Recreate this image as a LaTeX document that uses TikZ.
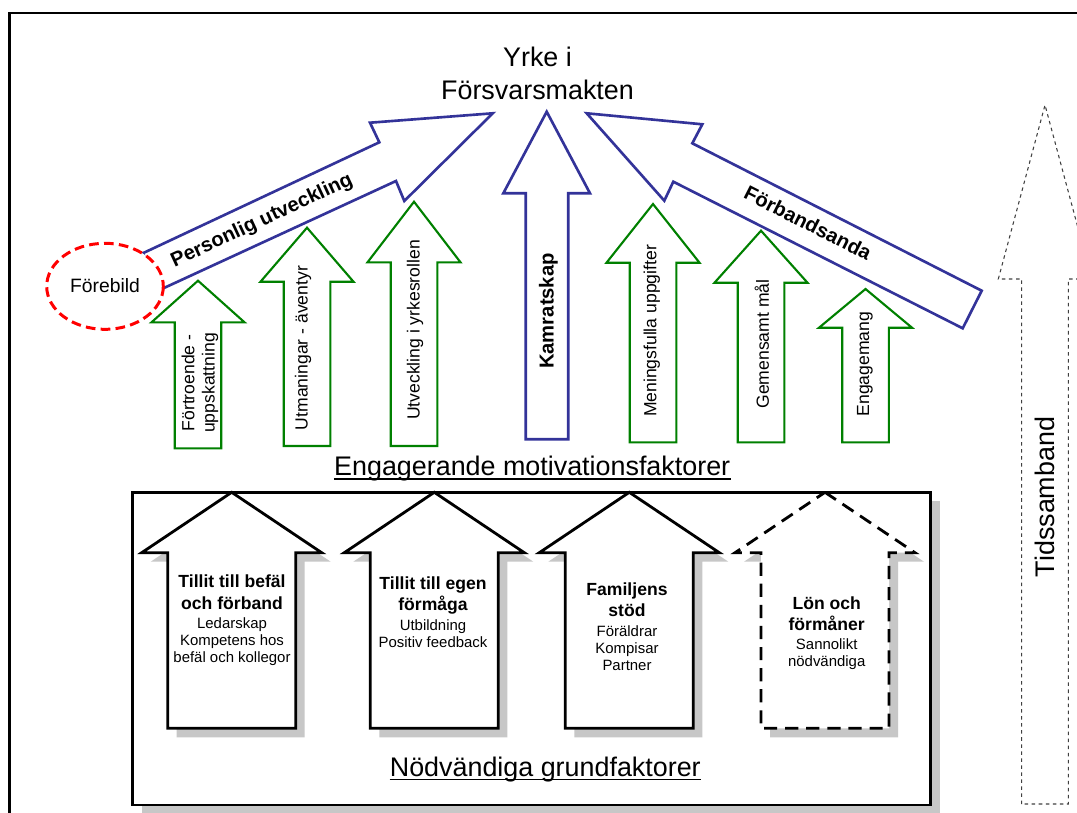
\documentclass[tikz,border=0pt]{standalone}
\usepackage{fontspec}
\setmainfont{Liberation Sans}
\usepackage{tikz}
\usetikzlibrary{positioning}

\definecolor{navyblue}{RGB}{51,51,153}
\definecolor{leafgreen}{RGB}{0,128,0}

\tikzset{
  bluearrow/.style={draw=navyblue, line width=1.5pt, fill=white},
  greenarrow/.style={draw=leafgreen, line width=1.2pt, fill=white},
  basearrow/.style={draw=black, line width=1.6pt, fill=white},
  dropshadow/.style={fill=black!22, draw=none},
  greenlabel/.style={font=\fontsize{10}{11.5}\selectfont, rotate=90, align=center, inner sep=0pt},
  boldlabel/.style={font=\bfseries\fontsize{11.5}{13}\selectfont, inner sep=0pt},
  headtext/.style={font=\bfseries\fontsize{10}{12}\selectfont, align=center, inner sep=0pt, anchor=base},
  subtext/.style={font=\fontsize{8.5}{9.8}\selectfont, align=center, inner sep=0pt, anchor=base},
  bigtext/.style={font=\fontsize{15.3}{18.7}\selectfont, inner sep=0pt}
}

\begin{document}
\begin{tikzpicture}[x=0.2mm, y=-0.2mm]
 \clip (0,0) rectangle (1077,812);
 % frame
 \draw[line width=1.4pt] (9.5,13) rectangle (1100,830);

 % time arrow
 \draw[dash pattern=on 2pt off 2pt, line width=0.6pt, black!75] (1021.7,804) -- (1021.7,279) -- (998.3,279) -- (1045,105) -- (1091.7,279) -- (1068.3,279) -- (1068.3,804) -- cycle;
 \node[bigtext, rotate=90] (tid) at (1045,497) {Tidssamband};

 % blue arrows
 \draw[bluearrow] (142.7,253.3) -- (379.3,142.3) -- (370,122.7) -- (492.7,113.3) -- (404.3,201) -- (396,181) -- (163.3,288.3) -- cycle;
 \draw[bluearrow] (546.7,111.7) -- (590,193.3) -- (568.3,193.3) -- (568.3,439.3) -- (525.7,439.3) -- (525.7,193.3) -- (503.3,193.3) -- cycle;
 \draw[bluearrow] (586.7,113.3) -- (702.3,124.3) -- (692.3,143.3) -- (981.7,290.7) -- (962.7,328.3) -- (673.3,181.7) -- (664.3,200.7) -- cycle;

 % green arrows
 \foreach \cx/\tip/\head/\bot in {198/280.7/322.3/448.3, 307/227.7/281.7/446, 414/201.7/262.3/446,
                                  653/204/262.7/442.3, 761/230.7/282.7/442.3, 865.5/289/327.7/442.3}
  \draw[greenarrow] (\cx,\tip) -- ({\cx+46.5},\head) -- ({\cx+23.3},\head) -- ({\cx+23.3},\bot)
     -- ({\cx-23.3},\bot) -- ({\cx-23.3},\head) -- ({\cx-46.5},\head) -- cycle;

 % role model
 \draw[red, line width=1.7pt, dash pattern=on 5.5pt off 3pt, fill=white] (105,286.3) ellipse [x radius=58.3, y radius=43];
 \node[font=\fontsize{11}{13}\selectfont, inner sep=0pt] (forebild) at (105,285.7) {Förebild};

 \node[bigtext, align=center, anchor=base] (yrke) at (537.5,99) {Yrke i\\Försvarsmakten};
 \node[boldlabel, rotate=25] (personlig) at (262,221) {Personlig utveckling};
 \node[boldlabel, rotate=90] (kamrat) at (548.5,311) {Kamratskap};
 \node[boldlabel, rotate=-27] (forband) at (808,223) {Förbandsanda};

 \node[greenlabel] (fortroende) at (200,383) {Förtroende -\\uppskattning};
 \node[greenlabel] (utmaning) at (303,348) {Utmaningar - äventyr};
 \node[greenlabel] (yrkesroll) at (415,330) {Utveckling i yrkesrollen};
 \node[greenlabel] (uppgift) at (651.7,331) {Meningsfulla uppgifter};
 \node[greenlabel] (mal) at (761.8,344) {Gemensamt mål};
 \node[greenlabel] (engagemang) at (865,364) {Engagemang};

 \node[bigtext, anchor=base] (engag) at (532.2,475.7) {Engagerande motivationsfaktorer};
 \draw[line width=0.9pt] ([yshift=-2pt]engag.base west) -- ([yshift=-2pt]engag.base east);

 % base factors
 \fill[dropshadow] (141.7,501.3) rectangle (939.7,814);
 \draw[line width=1.4pt, fill=white] (132.7,492.3) rectangle (930.7,805);
 \foreach \cx in {231.7, 434.3, 629.3, 825}
  \fill[dropshadow, shift={(9,9)}] (\cx,492.3) -- ({\cx+90},552.7) -- ({\cx+64},552.7) -- ({\cx+64},728.3)
     -- ({\cx-64},728.3) -- ({\cx-64},552.7) -- ({\cx-90},552.7) -- cycle;
 \foreach \cx in {231.7, 434.3, 629.3}
  \draw[basearrow] (\cx,492.3) -- ({\cx+90},552.7) -- ({\cx+64},552.7) -- ({\cx+64},728.3)
     -- ({\cx-64},728.3) -- ({\cx-64},552.7) -- ({\cx-90},552.7) -- cycle;
 \draw[basearrow, dash pattern=on 7.5pt off 4.5pt] (825,492.3) -- (915,552.7) -- (889,552.7) -- (889,728.3)
     -- (761,728.3) -- (761,552.7) -- (735,552.7) -- cycle;

 \node[headtext] (befal) at (232,609) {Tillit till befäl\\och förband};
 \node[subtext] (befal-sub) at (232,662.7) {Ledarskap\\Kompetens hos\\befäl och kollegor};
 \node[headtext] (egen) at (433,610.7) {Tillit till egen\\förmåga};
 \node[subtext] (egen-sub) at (433,647.7) {Utbildning\\Positiv feedback};
 \node[headtext] (familj) at (627,616.7) {Familjens\\stöd};
 \node[subtext] (familj-sub) at (627,670.7) {Föräldrar\\Kompisar\\Partner};
 \node[headtext] (lon) at (826.7,630.7) {Lön och\\förmåner};
 \node[subtext] (lon-sub) at (826.7,666.7) {Sannolikt\\nödvändiga};

 \node[bigtext, anchor=base] (nodv) at (545.3,776) {Nödvändiga grundfaktorer};
 \draw[line width=0.9pt] ([yshift=-2pt]nodv.base west) -- ([yshift=-2pt]nodv.base east);
\end{tikzpicture}
\end{document}
